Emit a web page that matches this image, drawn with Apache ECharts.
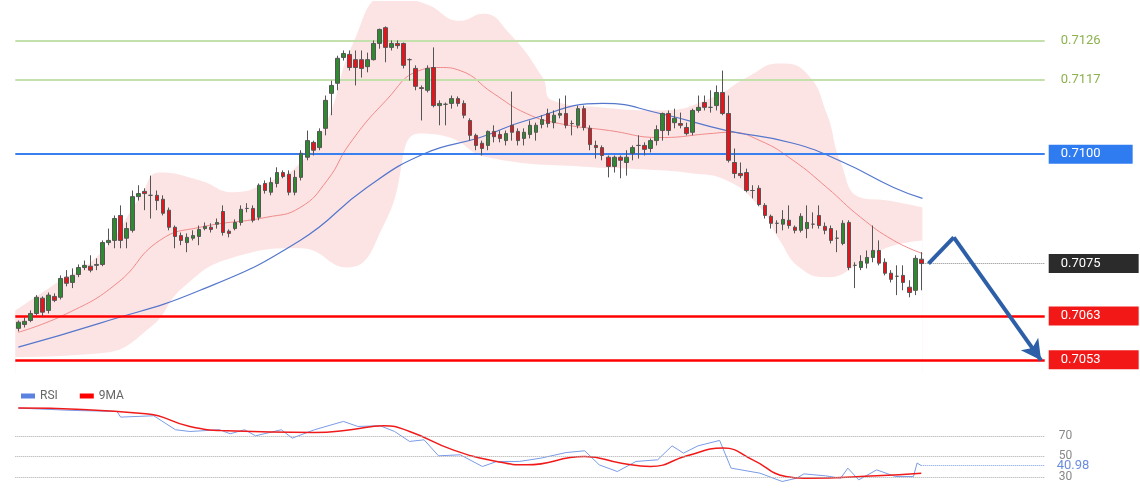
<!DOCTYPE html>
<html><head><meta charset="utf-8">
<script src="https://cdn.jsdelivr.net/npm/echarts@6/dist/echarts.min.js"></script>
<style>html,body{margin:0;background:#fff}#c{width:1140px;height:500px}</style>
</head><body><div id="c"></div>
<script>
const opens=[.70602,.70611,.70620,.70636,.70671,.70643,.70675,.70673,.70719,.70707,.70725,.70741,.70744,.70746,.70748,.70798,.70803,.70860,.70808,.70826,.70903,.70915,.70906,.70906,.70897,.70872,.70833,.70814,.70798,.70808,.70812,.70830,.70833,.70840,.70869,.70824,.70830,.70844,.70876,.70876,.70856,.70933,.70913,.70933,.70958,.70954,.70913,.70947,.70993,.71027,.71015,.71059,.71139,.71162,.71221,.71228,.71216,.71216,.71200,.71216,.71253,.71289,.71244,.71253,.71253,.71216,.71196,.71152,.71146,.71198,.71111,.71114,.71116,.71127,.71116,.71077,.71043,.71025,.71020,.71052,.71045,.71031,.71066,.71052,.71036,.71045,.71050,.71068,.71093,.71072,.71089,.71093,.71070,.71066,.71104,.71059,.71020,.71015,.70993,.70972,.70993,.70981,.71002,.71020,.71020,.71013,.71031,.71054,.71093,.71072,.71070,.71061,.71050,.71100,.71118,.71107,.71111,.71141,.71093,.70981,.70956,.70958,.70917,.70922,.70883,.70858,.70842,.70840,.70849,.70833,.70826,.70830,.70840,.70860,.70835,.70830,.70808,.70796,.70844,.70746,.70741,.70751,.70764,.70780,.70753,.70728,.70721,.70723,.70696,.70689,.70760];
const closes=[.70616,.70618,.70636,.70673,.70639,.70678,.70666,.70716,.70705,.70723,.70741,.70746,.70735,.70748,.70798,.70803,.70853,.70803,.70830,.70903,.70910,.70910,.70906,.70894,.70865,.70833,.70812,.70803,.70810,.70814,.70828,.70835,.70828,.70844,.70821,.70819,.70844,.70874,.70876,.70849,.70929,.70917,.70935,.70958,.70949,.70913,.70947,.71002,.71031,.71009,.71052,.71123,.71157,.71219,.71230,.71198,.71198,.71196,.71216,.71253,.71285,.71244,.71253,.71248,.71203,.71216,.71155,.71150,.71196,.71111,.71116,.71114,.71127,.71116,.71089,.71043,.71020,.71013,.71052,.71040,.71036,.71047,.71050,.71031,.71050,.71066,.71066,.71079,.71070,.71089,.71093,.71066,.71070,.71104,.71061,.71022,.71015,.70997,.70972,.70993,.70986,.70993,.71015,.71020,.71011,.71031,.71056,.71093,.71054,.71082,.71066,.71047,.71100,.71107,.71107,.71107,.71141,.71093,.70986,.70956,.70951,.70917,.70917,.70885,.70860,.70842,.70842,.70851,.70837,.70826,.70858,.70844,.70840,.70837,.70826,.70803,.70808,.70842,.70741,.70746,.70755,.70764,.70780,.70751,.70728,.70714,.70721,.70707,.70684,.70762,.70750];
const highs=[.70620,.70627,.70643,.70678,.70675,.70684,.70682,.70723,.70735,.70739,.70748,.70757,.70769,.70762,.70803,.70830,.70860,.70883,.70844,.70917,.70929,.70922,.70951,.70917,.70906,.70878,.70837,.70821,.70819,.70826,.70837,.70844,.70842,.70853,.70883,.70828,.70851,.70883,.70888,.70883,.70933,.70940,.70947,.70970,.70963,.70963,.70963,.71009,.71054,.71031,.71059,.71134,.71168,.71225,.71237,.71237,.71237,.71237,.71232,.71260,.71287,.71292,.71260,.71260,.71255,.71219,.71203,.71157,.71203,.71244,.71123,.71118,.71134,.71132,.71123,.71082,.71047,.71031,.71054,.71066,.71054,.71054,.71143,.71059,.71059,.71077,.71072,.71089,.71104,.71100,.71127,.71134,.71077,.71111,.71111,.71066,.71031,.71020,.70997,.70997,.70997,.71009,.71020,.71043,.71027,.71036,.71066,.71095,.71100,.71104,.71095,.71072,.71104,.71134,.71134,.71146,.71157,.71191,.71134,.71013,.70981,.70967,.70929,.70929,.70888,.70862,.70849,.70872,.70883,.70837,.70865,.70883,.70867,.70883,.70844,.70837,.70826,.70849,.70849,.70753,.70769,.70780,.70837,.70803,.70762,.70735,.70746,.70746,.70712,.70769,.70776];
const lows=[.70595,.70604,.70616,.70632,.70630,.70636,.70662,.70668,.70698,.70694,.70719,.70735,.70730,.70735,.70744,.70792,.70785,.70785,.70785,.70821,.70894,.70872,.70853,.70872,.70860,.70826,.70785,.70792,.70776,.70803,.70792,.70826,.70821,.70830,.70814,.70810,.70826,.70837,.70867,.70844,.70849,.70910,.70906,.70924,.70945,.70906,.70906,.70940,.70986,.70997,.71009,.71043,.71089,.71146,.71214,.71191,.71157,.71175,.71187,.71214,.71241,.71210,.71237,.71241,.71196,.71168,.71146,.71077,.71141,.71107,.71066,.71066,.71104,.71109,.71082,.71031,.71009,.70997,.71009,.71027,.71027,.71020,.71031,.71020,.71020,.71036,.71031,.71059,.71061,.71059,.71082,.71059,.71043,.71059,.71054,.71009,.70990,.70986,.70947,.70958,.70945,.70951,.70986,.70990,.70997,.71004,.71020,.71031,.71043,.71059,.71059,.71043,.71043,.71095,.71100,.71095,.71100,.71089,.70981,.70945,.70945,.70913,.70899,.70881,.70853,.70830,.70819,.70826,.70830,.70819,.70821,.70808,.70830,.70830,.70817,.70796,.70776,.70792,.70735,.70694,.70735,.70739,.70753,.70746,.70723,.70707,.70678,.70689,.70673,.70678,.70689];
const bandUpper=[[-0.5,.70643],[5.3,.70696],[13.6,.70773],[20.2,.70901],[23.5,.70958],[30.2,.70940],[35.7,.70913],[41.3,.70935],[46.8,.70979],[51.3,.71077],[55.6,.71253],[61.1,.71360],[67.6,.71344],[73.4,.71305],[77.2,.71321],[81.6,.71276],[87.1,.71175],[88.7,.71123],[96.5,.71107],[106.6,.71100],[115.4,.71130],[121.0,.71175],[126.5,.71207],[131.0,.71184],[134.3,.71093],[136.5,.70986],[139.9,.70901],[144.4,.70894],[150.2,.70878]];
const bandLower=[[-0.5,.70536],[13.6,.70545],[21.9,.70604],[27.4,.70696],[35.7,.70764],[46.8,.70785],[54.6,.70741],[61.1,.70849],[66.6,.71047],[71.2,.71040],[77.9,.70993],[95.4,.70970],[101.0,.70967],[112.1,.70956],[117.7,.70940],[123.2,.70878],[126.5,.70803],[129.8,.70741],[134.3,.70719],[139.9,.70751],[144.4,.70787],[150.2,.70803]];
const bandMid=[[0,.70593],[8.1,.70636],[16.4,.70705],[23.5,.70803],[30.2,.70833],[41.3,.70856],[46.8,.70878],[51.3,.70940],[55.1,.71025],[61.1,.71123],[66.6,.71191],[70.1,.71198],[73.4,.71191],[78.9,.71139],[84.4,.71093],[89.9,.71070],[98.2,.71054],[106.6,.71038],[114.9,.71047],[118.2,.71050],[123.2,.71031],[128.7,.70986],[134.3,.70924],[139.9,.70856],[145.4,.70803],[150.2,.70773]];
const maBlue=[[0,.70559],[13.6,.70614],[30.2,.70689],[46.8,.70803],[57.9,.70924],[67.6,.71002],[76.7,.71038],[84.4,.71077],[97.1,.71116],[106.6,.71093],[117.7,.71054],[128.7,.71025],[137.1,.70981],[145.4,.70924],[150.2,.70899]];
const rsi=[[0,97.0],[9.1,94.7],[16.4,93.7],[17.0,88.2],[22.5,89.5],[26.1,75.9],[28.5,74.2],[33.4,75.9],[35.2,72.0],[37.6,75.9],[39.4,70.0],[43.7,75.9],[45.5,67.7],[49.2,75.9],[54.0,84.0],[56.4,79.1],[60.1,79.8],[62.5,74.2],[65.0,64.5],[67.4,66.1],[69.8,50.5],[73.4,51.5],[77.1,40.1],[79.5,45.0],[83.2,45.0],[86.8,48.2],[91.0,53.7],[94.1,55.4],[96.5,41.7],[99.5,35.2],[102.6,45.0],[106.2,46.6],[108.6,60.2],[110.5,53.1],[112.9,60.2],[116.5,65.5],[118.4,38.5],[123.2,33.6],[126.9,25.5],[129.3,28.7],[130.5,32.9],[134.1,31.0],[136.6,28.7],[137.8,38.5],[139.6,27.1],[142.6,36.8],[145.7,30.3],[148.7,30.3],[149.3,43.5],[150,40.98]];
const ma9=[[0,97.0],[21.2,91.5],[28.5,79.1],[34.6,74.9],[49.2,73.2],[55.2,75.9],[60.7,79.8],[65.0,74.2],[72.2,56.3],[79.5,45.0],[84.4,41.7],[94.1,49.8],[100.2,43.3],[105.0,40.1],[111.1,50.5],[117.1,58.0],[122.0,46.6],[127.5,30.3],[130.5,28.7],[142.6,31.0],[150,33.6]];
const greenLevels=[0.7126,0.7117];
const blueLevel=0.7100, currentPrice=0.7075, redLevels=[0.7063,0.7053];
const rsiLevels=[70,50,30], rsiLast=40.98;
const arrowPath=[[151.2,0.7075],[155.4,0.7081],[169.9,0.70529]];
const N=171;
const cats=Array.from({length:N},(_,i)=>String(i));
const candles=opens.map((o,i)=>[o,closes[i],lows[i],highs[i]]);
const G={left:15.3,width:1029.4};
const fmt4=v=>Number(v).toFixed(4);
const boxLbl=(txt,bg,pr)=>({show:true,position:'end',distance:4,formatter:()=>txt,color:'#fff',backgroundColor:bg,padding:[3,pr||38,3,12],fontSize:13,fontFamily:'Roboto'});
const hLine=(v,style,label)=>[{coord:[-0.5,v],lineStyle:style,label:label},{coord:[N-0.5,v]}];
const chart=echarts.init(document.getElementById('c'));
chart.setOption({
 animation:false,
 grid:[{left:G.left,width:G.width,top:1,height:372},{left:G.left,width:G.width,top:405,height:77}],
 xAxis:[{type:'category',data:cats,gridIndex:0,show:false},
        {type:'value',min:-0.5,max:N-0.5,gridIndex:0,show:false},
        {type:'value',min:-0.5,max:N-0.5,gridIndex:1,show:false}],
 yAxis:[{type:'value',min:0.7050,max:0.7135,gridIndex:0,show:false},
        {type:'value',min:25,max:100,gridIndex:1,show:false}],
 legend:{left:16,top:385,icon:'rect',itemWidth:14,itemHeight:5,itemGap:22,data:['RSI','9MA'],textStyle:{color:'#666',fontSize:12,fontFamily:'Roboto'}},
 series:[
  {type:'line',xAxisIndex:1,yAxisIndex:0,data:bandUpper,smooth:true,symbol:'none',lineStyle:{width:0},areaStyle:{color:'#fde4e4',opacity:1,origin:'start'},z:1},
  {type:'line',xAxisIndex:1,yAxisIndex:0,data:bandLower,smooth:true,symbol:'none',lineStyle:{width:0},areaStyle:{color:'#ffffff',opacity:1,origin:'start'},z:1},
  {type:'line',xAxisIndex:1,yAxisIndex:0,data:bandMid,smooth:true,symbol:'none',lineStyle:{width:1,color:'#f08a8a'},z:2},
  {type:'line',xAxisIndex:1,yAxisIndex:0,data:maBlue,smooth:true,symbol:'none',lineStyle:{width:1.2,color:'#5577cc'},z:2},
  {type:'candlestick',xAxisIndex:0,yAxisIndex:0,data:candles,barWidth:4,z:5,
   itemStyle:{color:'#2e8a2e',color0:'#e8141c',borderColor:'#555',borderColor0:'#555',borderWidth:1}},
  {type:'line',xAxisIndex:1,yAxisIndex:0,data:arrowPath.slice(0,2),symbol:'none',lineStyle:{color:'#2d5fa8',width:4},z:6,
   markLine:{silent:true,symbol:'none',animation:false,data:[
     ...greenLevels.map(v=>hLine(v,{color:'#c4e0ad',width:2,type:'solid'},{show:true,position:'end',distance:16,formatter:()=>fmt4(v),color:'#8db24e',fontSize:13,fontFamily:'Roboto'})),
     hLine(blueLevel,{color:'#3a7ff0',width:1.8,type:'solid'},boxLbl(fmt4(blueLevel),'#2f7bf0',32)),
     ...redLevels.map(v=>hLine(v,{color:'#f00',width:2.5,type:'solid'},boxLbl(fmt4(v),'#f21818',38))),
     [{coord:[150,currentPrice],lineStyle:{color:'#888',width:1,type:'dotted'},label:boxLbl(fmt4(currentPrice),'#2b2b2b',38)},{coord:[N-0.5,currentPrice]}],
     [{coord:arrowPath[1],symbol:'none',lineStyle:{color:'#2d5fa8',width:4,type:'solid'},label:{show:false}},{coord:arrowPath[2],symbol:'arrow',symbolSize:[16,20]}]
   ]}},
  {name:'RSI',type:'line',xAxisIndex:2,yAxisIndex:1,data:rsi,symbol:'none',lineStyle:{color:'#7a9be6',width:1},itemStyle:{color:'#5b82e0'},z:3,
   markLine:{silent:true,symbol:'none',data:[
     ...rsiLevels.map(v=>[{coord:[-0.5,v],lineStyle:{color:'#aaa',width:1,type:'dotted'},label:{show:true,position:'end',distance:14,formatter:()=>String(v),color:'#888',fontSize:12,fontFamily:'Roboto'}},{coord:[N-0.5,v]}]),
     [{coord:[150,rsiLast],lineStyle:{color:'#7a9be6',width:1,type:'dotted'},label:{show:true,position:'end',distance:12,formatter:()=>rsiLast.toFixed(2),color:'#6b8de0',fontSize:13,fontFamily:'Roboto'}},{coord:[N-0.5,rsiLast]}]
   ]}},
  {name:'9MA',type:'line',xAxisIndex:2,yAxisIndex:1,data:ma9,smooth:true,symbol:'none',lineStyle:{color:'#f01a1a',width:1.5},itemStyle:{color:'#f00'},z:4}
 ]
});
</script></body></html>
